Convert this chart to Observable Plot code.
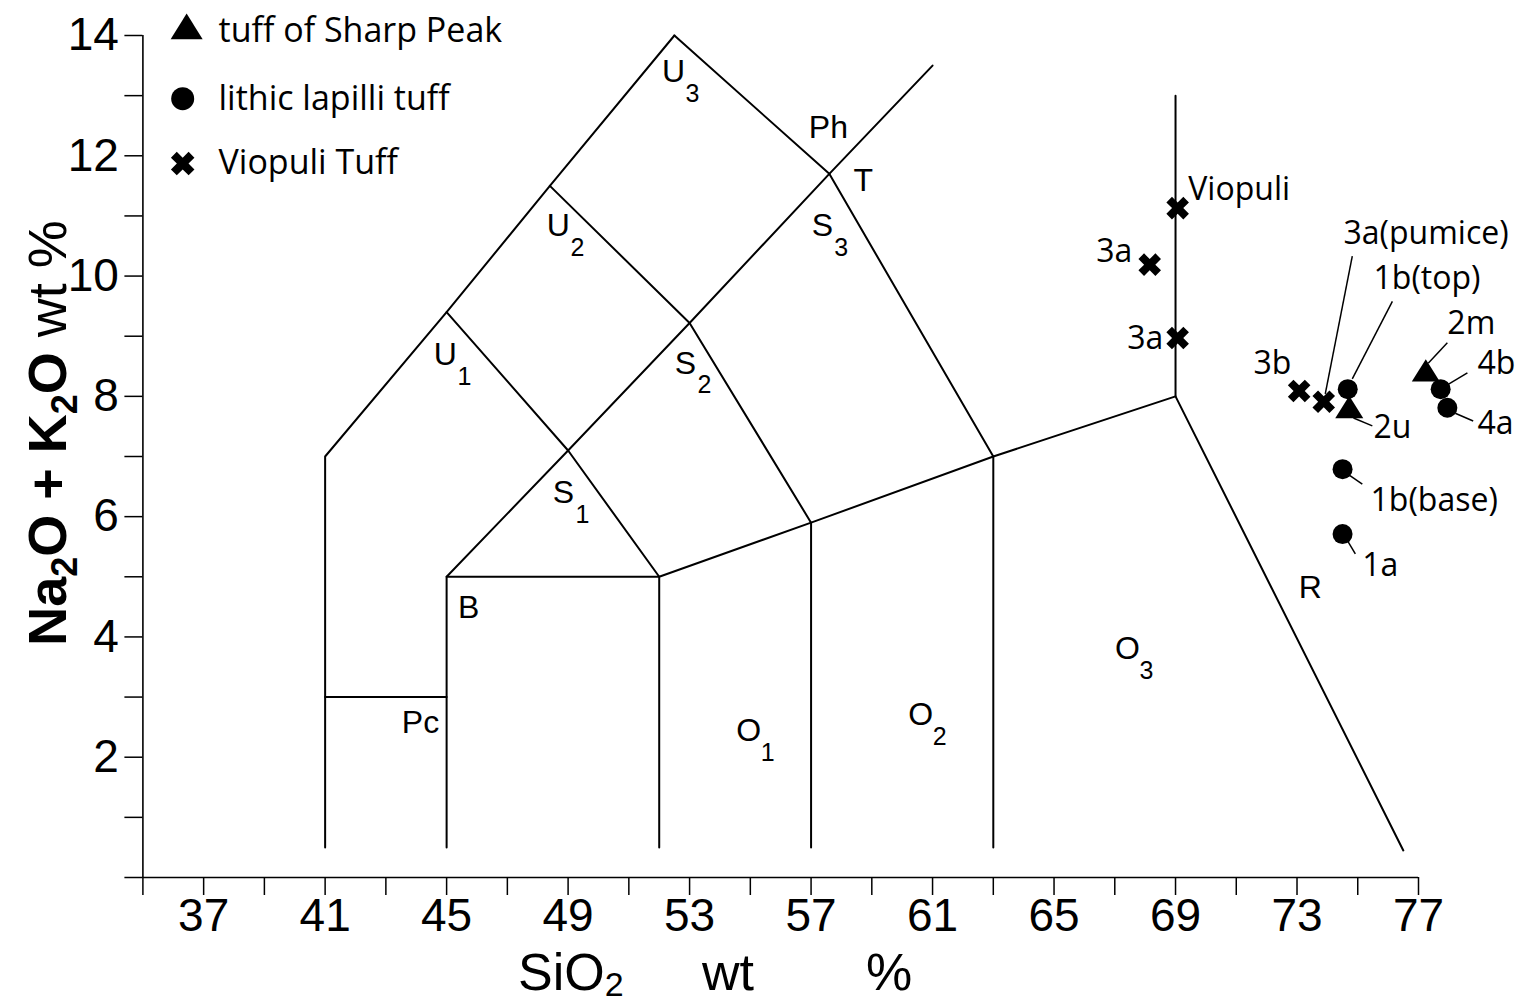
<!DOCTYPE html>
<html><head><meta charset="utf-8">
<script src="https://cdn.jsdelivr.net/npm/d3@7"></script>
<script src="https://cdn.jsdelivr.net/npm/@observablehq/plot@0.6"></script>
<style>html,body{margin:0;padding:0;background:#fff}svg{display:block}</style>
</head><body><div id="chart"></div>
<script>
// ---------- data ----------
const seriesNames = ["tuff of Sharp Peak", "lithic lapilli tuff", "Viopuli Tuff"];

const viopuliNames = ["Viopuli", "3a", "3a", "3b", "3a(pumice)"];
const viopuliSiO2  = [69.07, 68.15, 69.07, 73.07, 73.88];
const viopuliAlk   = [11.13, 10.19, 8.97, 8.09, 7.91];

const lithicNames = ["1b(top)", "4b", "4a", "1b(base)", "1a"];
const lithicSiO2  = [74.67, 77.73, 77.95, 74.50, 74.50];
const lithicAlk   = [8.12, 8.12, 7.81, 6.79, 5.71];

const sharpNames = ["2m", "2u"];
const sharpSiO2  = [77.24, 74.72];
const sharpAlk   = [8.37, 7.76];

const xTickValues = [35, 37, 39, 41, 43, 45, 47, 49, 51, 53, 55, 57, 59, 61, 63, 65, 67, 69, 71, 73, 75, 77];
const xTickLabels = [37, 41, 45, 49, 53, 57, 61, 65, 69, 73, 77];
const yTickValues = [0, 1, 2, 3, 4, 5, 6, 7, 8, 9, 10, 11, 12, 13, 14];
const yTickLabels = [2, 4, 6, 8, 10, 12, 14];

// TAS field boundaries (SiO2, Na2O+K2O)
const boundaries = [
  [[41, 0.5], [41, 7], [45, 9.4], [48.4, 11.5], [52.5, 14]],
  [[52.5, 14], [57.6, 11.7], [63, 7]],
  [[57.6, 11.7], [61, 13.5]],
  [[45, 0.5], [45, 5], [49.0, 7.1], [53, 9.22], [57.6, 11.7]],
  [[45, 9.4], [49.0, 7.1], [52, 5]],
  [[48.4, 11.5], [53, 9.22], [57, 5.9]],
  [[41, 3], [45, 3]],
  [[45, 5], [52, 5]],
  [[52, 0.5], [52, 5], [57, 5.9], [63, 7], [69, 8]],
  [[57, 0.5], [57, 5.9]],
  [[63, 0.5], [63, 7]],
  [[69, 13], [69, 8], [76.5, 0.45]]
];

// field names
const fieldNames = ["U", "Ph", "T", "S", "U", "S", "U", "S", "B", "Pc", "O", "O", "O", "R"];
const fieldSubs  = ["3", "", "", "3", "2", "2", "1", "1", "", "", "1", "2", "3", ""];
const fieldX     = [52.47, 57.57, 58.72, 57.37, 48.68, 52.86, 44.96, 48.85, 45.73, 44.14, 54.95, 60.61, 67.42, 73.44];
const fieldY     = [13.40, 12.46, 11.58, 10.83, 10.83, 8.55, 8.69, 6.39, 4.48, 2.57, 2.44, 2.71, 3.80, 4.82];

// sample label placement (annotation anchors, data units)
const labelNames  = ["Viopuli", "3a", "3a", "3b", "3a(pumice)", "1b(top)", "2m", "4b", "4a", "2u", "1b(base)", "1a"];
const labelX      = [69.42, 67.58, 68.60, 72.19, 74.53, 75.52, 77.95, 78.94, 78.94, 75.52, 75.42, 75.15];
const labelY      = [11.44, 10.40, 8.95, 8.55, 10.71, 9.95, 9.20, 8.54, 7.54, 7.47, 6.26, 5.18];
const labelAnchor = ["start", "end", "end", "middle", "start", "start", "start", "start", "start", "start", "start", "start"];

// leader lines
const leaderX1 = [74.82, 76.14, 77.95, 78.61, 78.21, 74.86, 74.66, 74.66];
const leaderY1 = [10.33, 9.58, 8.89, 8.39, 7.72, 7.64, 6.71, 5.60];
const leaderX2 = [73.93, 74.82, 77.32, 77.95, 78.80, 75.48, 75.15, 74.92];
const leaderY2 = [8.04, 8.29, 8.55, 8.19, 7.59, 7.51, 6.54, 5.38];

// legend anchors
const legendX = [36.44, 36.31, 36.31];
const legendTextX = [37.49, 37.49, 37.49];
const legendY = [14.08, 12.95, 11.87];

// ---------- build tables ----------
const rows = (names, xs, ys) => names.map((n, i) => ({name: n, x: xs[i], y: ys[i]}));
const viopuli = rows(viopuliNames, viopuliSiO2, viopuliAlk);
const lithic = rows(lithicNames, lithicSiO2, lithicAlk);
const sharp = rows(sharpNames, sharpSiO2, sharpAlk);
const boundaryRows = boundaries.flatMap((pts, i) => pts.map(([x, y]) => ({id: i, x, y})));
const fields = fieldNames.map((n, i) => ({name: n, sub: fieldSubs[i], x: fieldX[i], y: fieldY[i]}));
const labels = labelNames.map((n, i) => ({name: n, x: labelX[i], y: labelY[i], anchor: labelAnchor[i]}));
const leaders = leaderX1.map((d, i) => ({x1: d, y1: leaderY1[i], x2: leaderX2[i], y2: leaderY2[i]}));
const legend = seriesNames.map((n, i) => ({name: n, x: legendX[i], tx: legendTextX[i], y: legendY[i]}));

// ---------- symbols ----------
const triSym = {draw(ctx, size) {
  const r = Math.sqrt(size / Math.PI), h = r * 1.6;
  ctx.moveTo(0, -h * 2 / 3); ctx.lineTo(r, h / 3); ctx.lineTo(-r, h / 3); ctx.closePath();
}};
const xSym = {draw(ctx, size) {
  const r = Math.sqrt(size / Math.PI), w = r * 0.33, c = Math.SQRT1_2;
  const p = [[-w,-r],[w,-r],[w,-w],[r,-w],[r,w],[w,w],[w,r],[-w,r],[-w,w],[-r,w],[-r,-w],[-w,-w]];
  p.forEach(([x, y], i) => { const X = (x - y) * c, Y = (x + y) * c; i ? ctx.lineTo(X, Y) : ctx.moveTo(X, Y); });
  ctx.closePath();
}};
const circSym = "circle";

const axisFont = "'Liberation Sans', Arial, Helvetica, sans-serif";
const labelFont = "'Open Sans', 'Noto Sans', sans-serif";

const chart = Plot.plot({
  width: 1527, height: 1005,
  marginLeft: 142.4, marginRight: 109, marginTop: 35, marginBottom: 128,
  x: {domain: [35, 77], axis: null},
  y: {domain: [0, 14], axis: null},
  style: {background: "#fff", color: "#000", fontFamily: axisFont},
  marks: [
    Plot.line(boundaryRows, {x: "x", y: "y", z: "id", stroke: "#000", strokeWidth: 2}),
    Plot.ruleX([35], {y1: 0, y2: 14, stroke: "#000", strokeWidth: 1.6}),
    Plot.ruleY([0], {x1: 35, x2: 77, stroke: "#000", strokeWidth: 1.6}),
    Plot.axisX(xTickValues, {tickSize: 18, tickPadding: 3, strokeWidth: 1.5, label: null,
      tickFormat: d => xTickLabels.includes(d) ? String(d) : "", fontSize: 46, fontFamily: axisFont}),
    Plot.axisY(yTickValues, {tickSize: 18, tickPadding: 6, strokeWidth: 1.5, label: null,
      tickFormat: d => yTickLabels.includes(d) ? String(d) : "", fontSize: 46, fontFamily: axisFont}),
    // field labels
    Plot.text(fields, {x: "x", y: "y", text: "name", fontSize: 32, fontFamily: axisFont, fill: "#000"}),
    Plot.text(fields, {x: "x", y: "y", text: "sub", fontSize: 25, fontFamily: axisFont, fill: "#000", dx: 19, dy: 22}),
    // leaders
    Plot.link(leaders, {x1: "x1", y1: "y1", x2: "x2", y2: "y2", stroke: "#000", strokeWidth: 1.5}),
    // samples
    Plot.dot(viopuli, {x: "x", y: "y", symbol: xSym, r: 12, fill: "#000", stroke: "none"}),
    Plot.dot(lithic, {x: "x", y: "y", symbol: circSym, r: 10, fill: "#000", stroke: "none"}),
    Plot.dot(sharp, {x: "x", y: "y", symbol: triSym, r: 14, fill: "#000", stroke: "none"}),
    Plot.text(labels.filter(d => d.anchor === "start"), {x: "x", y: "y", text: "name", textAnchor: "start", fontSize: 32, fontFamily: labelFont, fill: "#000"}),
    Plot.text(labels.filter(d => d.anchor === "end"), {x: "x", y: "y", text: "name", textAnchor: "end", fontSize: 32, fontFamily: labelFont, fill: "#000"}),
    Plot.text(labels.filter(d => d.anchor === "middle"), {x: "x", y: "y", text: "name", textAnchor: "middle", fontSize: 32, fontFamily: labelFont, fill: "#000"}),
    // legend
    Plot.dot(legend.slice(0, 1), {x: "x", y: "y", symbol: triSym, r: 16, fill: "#000", stroke: "none"}),
    Plot.dot(legend.slice(1, 2), {x: "x", y: "y", symbol: circSym, r: 11.5, fill: "#000", stroke: "none"}),
    Plot.dot(legend.slice(2, 3), {x: "x", y: "y", symbol: xSym, r: 12.5, fill: "#000", stroke: "none"}),
    Plot.text(legend, {x: "tx", y: "y", text: "name", textAnchor: "start", fontSize: 34, fontFamily: labelFont, fill: "#000"})
  ]
});
document.getElementById("chart").append(chart);

// axis titles with subscripts
const svg = d3.select(chart);
const yt = svg.append("text")
  .attr("transform", "translate(66,433) rotate(-90)")
  .attr("text-anchor", "middle")
  .style("font-family", axisFont).style("font-size", "54px").attr("fill", "#000");
yt.append("tspan").attr("font-weight", "bold").text("Na");
yt.append("tspan").attr("font-weight", "bold").attr("font-size", "36px").attr("dy", 11).text("2");
yt.append("tspan").attr("font-weight", "bold").attr("dy", -11).text("O + K");
yt.append("tspan").attr("font-weight", "bold").attr("font-size", "36px").attr("dy", 11).text("2");
yt.append("tspan").attr("font-weight", "bold").attr("dy", -11).text("O");
yt.append("tspan").text(" wt %");

const xt = svg.append("text")
  .attr("y", 990)
  .attr("text-anchor", "start")
  .style("font-family", axisFont).style("font-size", "52px").attr("fill", "#000");
xt.append("tspan").attr("x", 518).text("SiO");
xt.append("tspan").attr("font-size", "34px").attr("dy", 6).text("2");
xt.append("tspan").attr("x", 702).attr("dy", -6).text("wt");
xt.append("tspan").attr("x", 866).text("%");
</script>
</body></html>
